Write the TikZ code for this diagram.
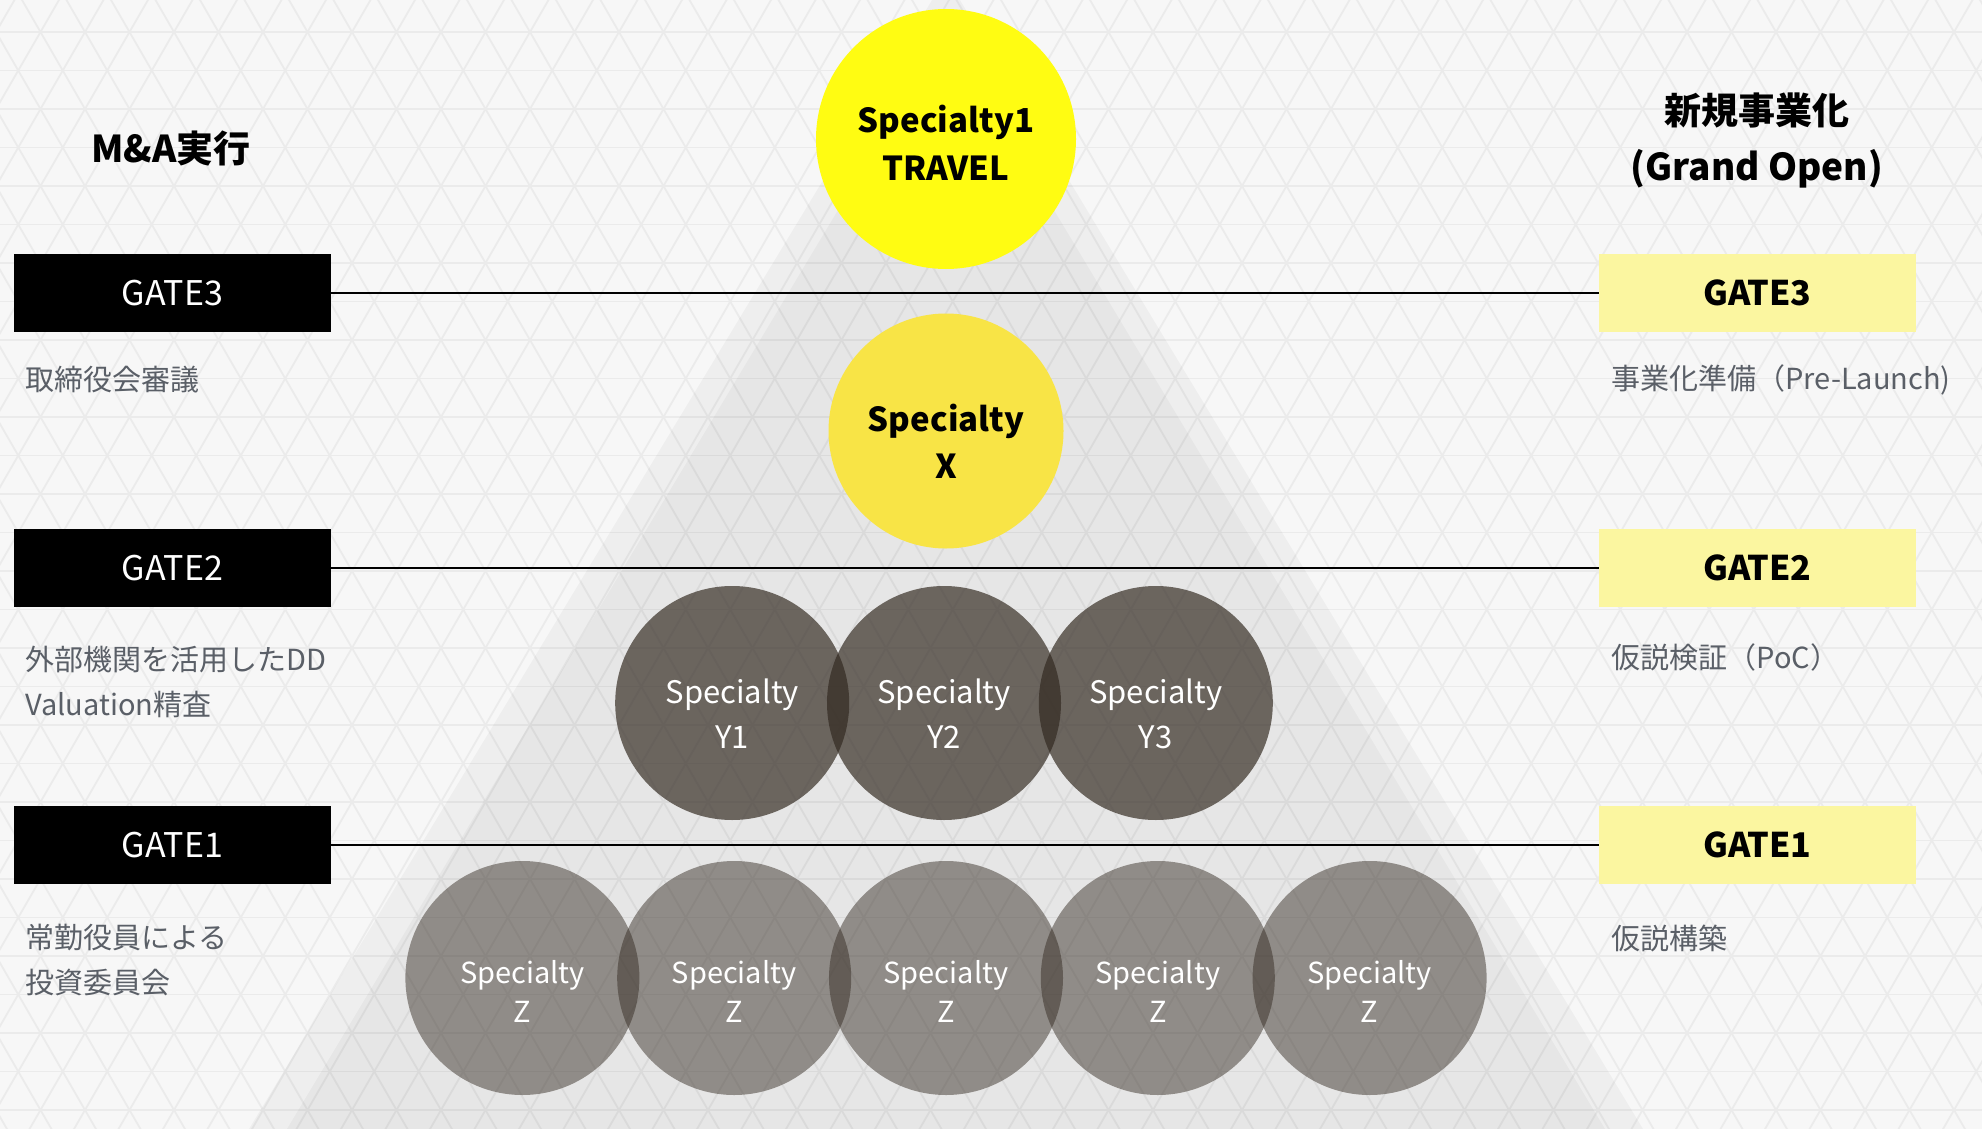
\documentclass[tikz,border=0pt]{standalone}
\usepackage{fontspec}
\setmainfont{Noto Sans CJK JP}
\usetikzlibrary{positioning}
\definecolor{bgcol}{HTML}{F7F7F7}
\definecolor{patcol}{HTML}{EBEBEB}
\definecolor{travelyellow}{HTML}{FFFC12}
\definecolor{xyellow}{HTML}{F8E446}
\definecolor{gateyellow}{HTML}{FBF6A0}
\definecolor{circdark}{HTML}{31281F}
\definecolor{desctext}{HTML}{5A5F67}
\tikzset{
    gateL/.style={rectangle, fill=black, text=white, inner sep=0pt, minimum width=158.5pt, minimum height=39pt, font=\fontsize{17}{20}\selectfont},
    gateR/.style={gateL, fill=gateyellow, text=black, font=\fontsize{17}{20}\selectfont\bfseries},
    desc/.style={text=desctext, font=\fontsize{14.5}{22.5}\selectfont, align=left, inner sep=0pt, anchor=west},
    headline/.style={font=\fontsize{18.5}{28}\selectfont\bfseries, align=center, inner sep=0pt},
    spec/.style={circle, inner sep=0pt},
    specA/.style={spec, fill=travelyellow, minimum size=130pt},
    specX/.style={spec, fill=xyellow, minimum size=117.5pt},
    specY/.style={spec, fill=circdark, fill opacity=0.68, minimum size=117pt},
    specZ/.style={specY, fill opacity=0.47},
    lab/.style={align=center, inner sep=0pt, text opacity=1},
    labA/.style={lab, yshift=-2pt, font=\fontsize{16.5}{24}\selectfont\bfseries},
    labX/.style={lab, yshift=-5pt, font=\fontsize{16.5}{23.5}\selectfont\bfseries},
    labY/.style={lab, text=white, yshift=-5.3pt, font=\fontsize{15.5}{22.5}\selectfont},
    labZ/.style={lab, text=white, yshift=-6.5pt, font=\fontsize{14.5}{19.5}\selectfont},
    gateline/.style={draw=black, line width=1pt},
    patline/.style={draw=patcol, line width=0.9pt}
}
\begin{document}
\begin{tikzpicture}[x=0.5pt, y=-0.5pt]
    \useasboundingbox (0,0) rectangle (1982,1129);
    \fill [bgcol] (0,0) rectangle (1982,1129);
    \begin{scope}
        \clip (0,0) rectangle (1982,1129);
        \foreach \k in {-1,...,29}
            \draw [patline] (0,32+38.5*\k) -- (1982,32+38.5*\k);
        \foreach \m in {-23,...,52} {
            \draw [patline] (352+44.5*\m-22.25,-6.5) -- (352+44.5*\m+645.25,1148.5);
            \draw [patline] (352+44.5*\m+22.25,-6.5) -- (352+44.5*\m-645.25,1148.5);
        }
    \end{scope}
    \fill [black, fill opacity=0.035] (946,-23) -- (249,1129) -- (1643,1129) -- cycle;
    \fill [black, fill opacity=0.03] (946,30) -- (287,1129) -- (1605,1129) -- cycle;

    \node [headline] (TitleMA) at (171,148) {M\&A実行};
    \node [headline] (TitleNew) at (1757,140) {新規事業化\\(Grand Open)};

    \node [gateL] (GateL3) at (172.5,293) {GATE3};
    \node [gateL] (GateL2) at (172.5,568) {GATE2};
    \node [gateL] (GateL1) at (172.5,845) {GATE1};
    \node [gateR] (GateR3) at (1757.5,293) {GATE3};
    \node [gateR] (GateR2) at (1757.5,568) {GATE2};
    \node [gateR] (GateR1) at (1757.5,845) {GATE1};

    \node [desc] (DescL3) at (25,380) {取締役会審議};
    \node [desc] (DescL2) at (25,682) {外部機関を活用したDD\\Valuation精査};
    \node [desc] (DescL1) at (25,960) {常勤役員による\\投資委員会};
    \node [desc] (DescR3) at (1611,380) {事業化準備（Pre-Launch)};
    \node [desc] (DescR2) at (1611,657) {仮説検証（PoC）};
    \node [desc] (DescR1) at (1611,938) {仮説構築};

    \draw [gateline] (GateL3) -- (GateR3);
    \draw [gateline] (GateL2) -- (GateR2);
    \draw [gateline] (GateL1) -- (GateR1);

    \node [specA, label={[labA]center:Specialty1\\TRAVEL}] (Travel) at (946,139) {};
    \node [specX, label={[labX]center:Specialty\\X}] (SpecX) at (946,431) {};
    \node [specY, label={[labY]center:Specialty\\Y2}] (SpecY2) at (944,703) {};
    \node [specY, left=-11.5pt of SpecY2, label={[labY]center:Specialty\\Y1}] (SpecY1) {};
    \node [specY, right=-11.5pt of SpecY2, label={[labY]center:Specialty\\Y3}] (SpecY3) {};
    \node [specZ, label={[labZ]center:Specialty\\Z}] (SpecZ3) at (946,978) {};
    \node [specZ, left=-11.5pt of SpecZ3, label={[labZ]center:Specialty\\Z}] (SpecZ2) {};
    \node [specZ, left=-11.5pt of SpecZ2, label={[labZ]center:Specialty\\Z}] (SpecZ1) {};
    \node [specZ, right=-11.5pt of SpecZ3, label={[labZ]center:Specialty\\Z}] (SpecZ4) {};
    \node [specZ, right=-11.5pt of SpecZ4, label={[labZ]center:Specialty\\Z}] (SpecZ5) {};
\end{tikzpicture}
\end{document}
